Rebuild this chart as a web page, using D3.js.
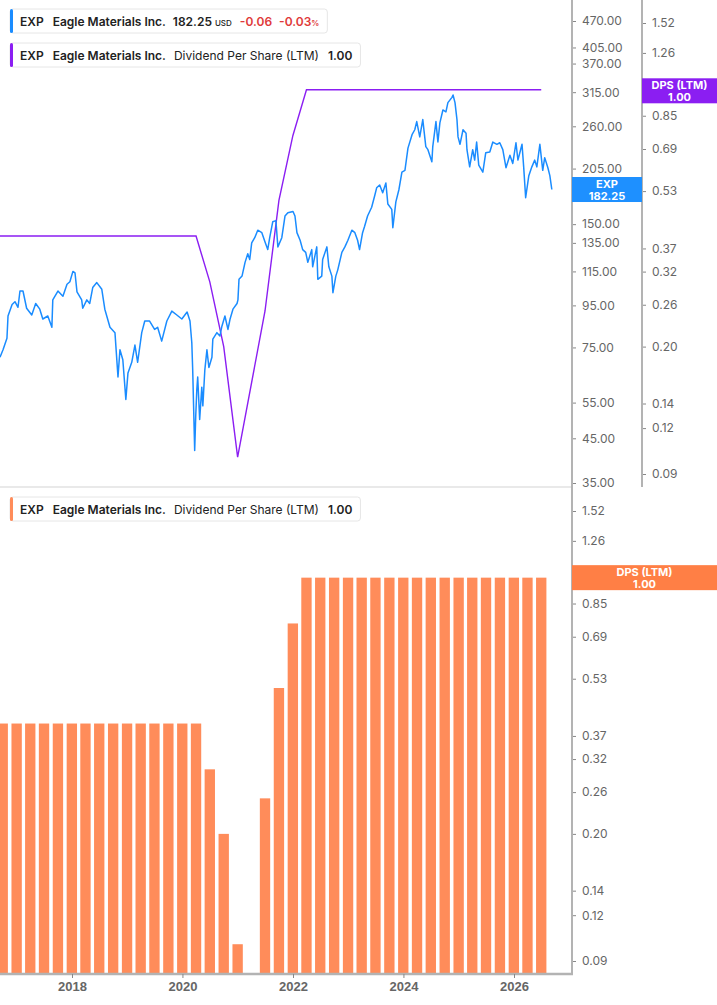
<!DOCTYPE html>
<html lang="en">
<head>
<meta charset="UTF-8">
<title>EXP dividend per share</title>
<style>
  body { margin: 0; background: #fff; font-family: Inter, "Noto Sans", sans-serif; }
  .tick text { fill: #666; font-size: 12px; }
  .tick line { stroke: #888; }
</style>
</head>
<body>
<svg id="viz"></svg>
<script src="https://cdn.jsdelivr.net/npm/d3@7/dist/d3.min.js"></script>
<script>
// EXP close
const priceDates = [
  "2016-09-12","2016-10-02","2016-10-28","2016-11-04","2016-12-01","2016-12-20","2017-01-09","2017-01-22","2017-02-11","2017-03-07",
  "2017-04-10","2017-05-06","2017-06-02","2017-06-22","2017-07-25","2017-08-21","2017-08-27","2017-09-30","2017-11-02","2017-11-29",
  "2017-12-18","2018-01-07","2018-01-21","2018-02-03","2018-03-06","2018-03-13","2018-04-09","2018-04-28","2018-05-18","2018-06-14",
  "2018-07-17","2018-08-06","2018-09-09","2018-10-12","2018-11-01","2018-11-14","2018-12-03","2018-12-23","2019-01-06","2019-01-31",
  "2019-02-21","2019-03-11","2019-04-07","2019-04-27","2019-05-29","2019-07-01","2019-07-21","2019-08-17","2019-09-20","2019-10-23",
  "2019-11-25","2019-12-28","2020-02-01","2020-02-20","2020-03-03","2020-03-09","2020-03-22","2020-03-29","2020-04-05","2020-04-11",
  "2020-04-24","2020-05-08","2020-05-15","2020-05-28","2020-06-11","2020-06-24","2020-07-14","2020-07-20","2020-08-16","2020-09-05",
  "2020-09-18","2020-10-08","2020-10-28","2020-11-11","2020-11-30","2020-12-27","2021-01-02","2021-01-09","2021-01-29","2021-02-18",
  "2021-03-08","2021-03-21","2021-04-03","2021-04-23","2021-05-13","2021-06-09","2021-06-29","2021-07-18","2021-07-31","2021-08-20",
  "2021-09-10","2021-09-23","2021-10-19","2021-11-09","2021-11-28","2022-01-01","2022-01-14","2022-01-27","2022-02-17","2022-03-06",
  "2022-03-26","2022-04-09","2022-05-05","2022-05-11","2022-06-07","2022-06-14","2022-07-10","2022-07-16","2022-08-13","2022-08-26",
  "2022-09-15","2022-09-22","2022-10-11","2022-10-24","2022-11-20","2022-12-10","2022-12-30","2023-01-25","2023-02-14","2023-03-04",
  "2023-03-17","2023-04-06","2023-04-19","2023-05-09","2023-06-05","2023-06-25","2023-07-08","2023-07-28","2023-08-17","2023-09-07",
  "2023-09-20","2023-10-16","2023-10-23","2023-11-12","2023-12-02","2023-12-22","2024-01-11","2024-01-31","2024-02-27","2024-03-16",
  "2024-03-29","2024-04-18","2024-05-08","2024-05-28","2024-06-11","2024-07-07","2024-07-13","2024-08-03","2024-08-16","2024-08-29",
  "2024-09-18","2024-10-08","2024-10-21","2024-11-17","2024-11-24","2024-12-07","2024-12-20","2024-12-27","2025-01-09","2025-01-29",
  "2025-02-18","2025-02-24","2025-03-14","2025-04-03","2025-04-16","2025-04-29","2025-05-13","2025-06-09","2025-06-28","2025-07-25",
  "2025-08-14","2025-09-10","2025-09-29","2025-10-19","2025-11-09","2025-12-05","2025-12-24","2026-01-14","2026-01-27","2026-02-23",
  "2026-03-06","2026-03-19","2026-04-09","2026-04-29","2026-05-18","2026-06-01","2026-06-21","2026-07-10","2026-07-23","2026-08-13",
  "2026-08-26","2026-09-08"
];
const priceValues = [
  71, 74, 79, 89.5, 95.5, 97, 94, 103, 103, 93.5,
  90, 96, 93, 88, 89.5, 84, 98, 103, 100, 107,
  108.5, 115, 114, 102.5, 98, 93.5, 98, 96, 105, 108,
  104, 93, 84, 81.5, 63.5, 74, 70, 56, 65, 69,
  76, 69, 81.5, 87, 87, 83, 84, 77.7, 87, 92,
  90, 88, 91.5, 87, 77, 66, 42, 51, 59, 63.5,
  50, 60, 54, 66, 74, 67, 71, 78.6, 81.5, 80,
  84.5, 89.5, 83, 88, 93, 96, 98, 110, 112, 121,
  127, 123, 135, 139, 145, 143, 136, 130, 139, 152,
  153, 132, 139, 157, 160, 161, 157, 143, 137, 130,
  128, 121, 130, 118, 132, 110, 112, 123, 132, 118,
  112, 102, 112, 116, 128, 132, 137, 145, 143, 137,
  130, 143, 148, 157, 165, 176, 184, 187, 179, 189,
  168, 163, 147, 170, 182, 201, 203, 230, 248, 255,
  267, 245, 270, 232, 228, 213, 232, 267, 238, 265,
  285, 282, 297, 306, 310, 297, 270, 245, 235, 255,
  250, 228, 207, 228, 215, 238, 209, 201, 224, 225,
  238, 235, 237, 228, 206, 221, 211, 237, 215, 235,
  207, 174, 197, 207, 215, 207, 235, 203, 218, 206,
  197, 182.25
];

// dividend per share, last twelve months, by quarter end
const dpsDates = [
  "2016-06-30","2016-09-30","2016-12-31",
  "2017-03-31","2017-06-30","2017-09-30","2017-12-31",
  "2018-03-31","2018-06-30","2018-09-30","2018-12-31",
  "2019-03-31","2019-06-30","2019-09-30","2019-12-31",
  "2020-03-31","2020-06-30","2020-09-30","2020-12-31",
  "2021-03-31","2021-06-30","2021-09-30","2021-12-31",
  "2022-03-31","2022-06-30","2022-09-30","2022-12-31",
  "2023-03-31","2023-06-30","2023-09-30","2023-12-31",
  "2024-03-31","2024-06-30","2024-09-30","2024-12-31",
  "2025-03-31","2025-06-30","2025-09-30","2025-12-31",
  "2026-03-31","2026-06-30"
];
const dpsValues = [
  0.40, 0.40, 0.40,
  0.40, 0.40, 0.40, 0.40,
  0.40, 0.40, 0.40, 0.40,
  0.40, 0.40, 0.40, 0.40,
  0.40, 0.30, 0.20, 0.10,
  0, 0.25, 0.50, 0.75,
  1.00, 1.00, 1.00, 1.00,
  1.00, 1.00, 1.00, 1.00,
  1.00, 1.00, 1.00, 1.00,
  1.00, 1.00, 1.00, 1.00,
  1.00, 1.00
];

const priceTicks = [470, 405, 370, 315, 260, 205, 150, 135, 115, 95, 75, 55, 45, 35];
const dpsTicks = [1.52, 1.26, 1.00, 0.85, 0.69, 0.53, 0.37, 0.32, 0.26, 0.20, 0.14, 0.12, 0.09];
const yearTicks = ["2018", "2020", "2022", "2024", "2026"];

const lastPrice = 182.25, lastDps = 1.00;

const width = 717, height = 1005;
const plotRight = 572, dpsAxisX = 642;
const splitY = 487, baseY = 974;

const blue = "#1a8cff", purple = "#8b1ef2", orange = "#ff8c5a";

const parse = d3.timeParse("%Y-%m-%d");
const prices = priceDates.map((d, i) => ({date: parse(d), value: priceValues[i]}));
const dps = dpsDates.map((d, i) => ({date: parse(d), value: dpsValues[i]}));

const svg = d3.select("#viz")
  .attr("width", width)
  .attr("height", height)
  .style("display", "block");

const x = d3.scaleTime()
  .domain([parse("2018-01-01"), parse("2026-01-01")])
  .range([72, 514]);

const yPrice = d3.scaleLog().domain([35, 470]).range([483, 21]);
const yDpsTop = d3.scaleLog().domain([0.09, 1.52]).range([474, 23]);
const yDpsBottom = d3.scaleLog().domain([0.09, 1.52]).range([961, 511]);

svg.append("clipPath").attr("id", "plotClip")
  .append("rect").attr("x", 0).attr("y", 0).attr("width", plotRight).attr("height", height);

// top panel lines
const plot = svg.append("g").attr("clip-path", "url(#plotClip)");

plot.append("path")
  .datum(dps.filter(d => d.value > 0))
  .attr("fill", "none")
  .attr("stroke", purple)
  .attr("stroke-width", 1.4)
  .attr("d", d3.line().x(d => x(d.date)).y(d => yDpsTop(d.value)));

plot.append("path")
  .datum(prices)
  .attr("fill", "none")
  .attr("stroke", blue)
  .attr("stroke-width", 1.5)
  .attr("stroke-linejoin", "round")
  .attr("d", d3.line().x(d => x(d.date)).y(d => yPrice(d.value)));

// bottom panel bars
const barW = (x(parse("2018-04-01")) - x(parse("2018-01-01"))) * 0.76;
plot.selectAll(".bar")
  .data(dps.filter(d => d.value > 0))
  .join("rect")
    .attr("class", "bar")
    .attr("x", d => x(d.date) - barW / 2)
    .attr("width", barW)
    .attr("y", d => yDpsBottom(d.value))
    .attr("height", d => baseY - yDpsBottom(d.value))
    .attr("fill", orange);

// frame lines
svg.append("line")
  .attr("x1", 0).attr("x2", plotRight).attr("y1", splitY).attr("y2", splitY)
  .attr("stroke", "#e2e2e2").attr("stroke-width", 1.5);

svg.append("line")
  .attr("x1", plotRight).attr("x2", plotRight).attr("y1", 0).attr("y2", baseY + 1)
  .attr("stroke", "#b3b3b3").attr("stroke-width", 2);

svg.append("line")
  .attr("x1", dpsAxisX).attr("x2", dpsAxisX).attr("y1", 0).attr("y2", splitY)
  .attr("stroke", "#b3b3b3").attr("stroke-width", 2);

svg.append("line")
  .attr("x1", 0).attr("x2", plotRight + 1).attr("y1", baseY).attr("y2", baseY)
  .attr("stroke", "#b3b3b3").attr("stroke-width", 2.5);

// axes
function rightAxis(scale, ticks, fmt, xPos) {
  const g = svg.append("g")
    .attr("transform", `translate(${xPos},0)`)
    .call(d3.axisRight(scale).tickValues(ticks).tickFormat(d3.format(fmt)).tickSize(3).tickPadding(6));
  g.select(".domain").remove();
  g.selectAll("text").style("font-family", "Inter, sans-serif");
  return g;
}
rightAxis(yPrice, priceTicks, ".2f", plotRight + 1);
rightAxis(yDpsTop, dpsTicks, ".2f", dpsAxisX + 1);
rightAxis(yDpsBottom, dpsTicks, ".2f", plotRight + 1);

const xAxis = svg.append("g")
  .attr("transform", `translate(0,${baseY})`)
  .call(d3.axisBottom(x).tickValues(yearTicks.map(y => parse(y + "-01-01"))).tickFormat(d3.timeFormat("%Y")).tickSize(4).tickPadding(4));
xAxis.select(".domain").remove();
xAxis.selectAll("text")
  .style("font-size", "13px")
  .style("font-weight", 700)
  .style("fill", "#666");

// value tags on the axes
function tag(x0, w, yCenter, color, line1, line2) {
  const g = svg.append("g");
  g.append("rect")
    .attr("x", x0).attr("y", yCenter - 12.5)
    .attr("width", w).attr("height", 25)
    .attr("fill", color);
  g.append("text")
    .attr("x", x0 + w / 2).attr("y", yCenter - 2)
    .attr("text-anchor", "middle")
    .attr("fill", "#fff")
    .style("font-size", "11px").style("font-weight", 700)
    .text(line1);
  g.append("text")
    .attr("x", x0 + w / 2).attr("y", yCenter + 10)
    .attr("text-anchor", "middle")
    .attr("fill", "#fff")
    .style("font-size", "11px").style("font-weight", 700)
    .text(line2);
}
tag(plotRight, dpsAxisX - plotRight, yPrice(lastPrice), "#1e90ff", "EXP", d3.format(".2f")(lastPrice));
tag(dpsAxisX, width - dpsAxisX, yDpsTop(lastDps) + 1, purple, "DPS (LTM)", d3.format(".2f")(lastDps));
tag(plotRight, width - plotRight, yDpsBottom(lastDps), "#ff7f45", "DPS (LTM)", d3.format(".2f")(lastDps));

// legends
function legend(yTop, color, parts) {
  const g = svg.append("g");
  const box = g.append("rect")
    .attr("x", 10).attr("y", yTop).attr("height", 24).attr("rx", 3)
    .attr("fill", "#fff").attr("stroke", "#e6e6e6");
  g.append("rect")
    .attr("x", 10).attr("y", yTop).attr("width", 3).attr("height", 24).attr("rx", 1.5)
    .attr("fill", color);
  const t = g.append("text")
    .attr("x", 20).attr("y", yTop + 16.5)
    .style("font-size", "12px")
    .attr("fill", "#222");
  parts.forEach(p => {
    t.append("tspan")
      .attr("dx", p.dx || 0)
      .style("font-weight", p.weight || 600)
      .style("font-size", p.size || null)
      .attr("fill", p.fill || null)
      .text(p.text);
  });
  const bb = t.node().getBBox();
  box.attr("width", bb.x + bb.width - 10 + 8);
}

const red = "#e03a3a";
legend(9, blue, [
  {text: "EXP"},
  {text: "Eagle Materials Inc.", dx: 9},
  {text: "182.25", dx: 8},
  {text: "USD", dx: 3, size: "8px", weight: 500},
  {text: "-0.06", dx: 8, fill: red},
  {text: "-0.03", dx: 7, fill: red},
  {text: "%", size: "8px", fill: red}
]);
legend(43, purple, [
  {text: "EXP"},
  {text: "Eagle Materials Inc.", dx: 9},
  {text: "Dividend Per Share (LTM)", dx: 8, weight: 400},
  {text: "1.00", dx: 9}
]);
legend(497, orange, [
  {text: "EXP"},
  {text: "Eagle Materials Inc.", dx: 9},
  {text: "Dividend Per Share (LTM)", dx: 8, weight: 400},
  {text: "1.00", dx: 9}
]);
</script>
</body>
</html>
